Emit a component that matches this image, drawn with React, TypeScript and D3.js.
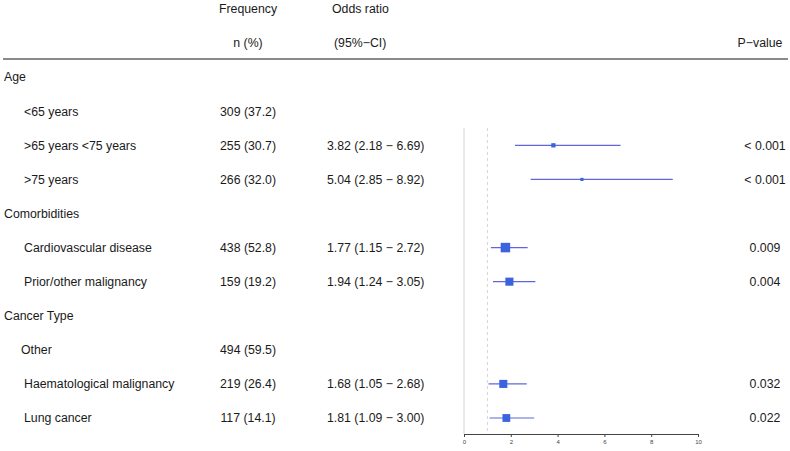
import React from "react";
import * as d3 from "d3";

const labels = ["Age", "<65 years", ">65 years <75 years", ">75 years", "Comorbidities", "Cardiovascular disease", "Prior/other malignancy", "Cancer Type", "Other", "Haematological malignancy", "Lung cancer"];
const isGroup = [true, false, false, false, true, false, false, true, false, false, false];
const freq = ["", "309 (37.2)", "255 (30.7)", "266 (32.0)", "", "438 (52.8)", "159 (19.2)", "", "494 (59.5)", "219 (26.4)", "117 (14.1)"];
const orEst: (number | null)[] = [null, null, 3.82, 5.04, null, 1.77, 1.94, null, null, 1.68, 1.81];
const orLo: (number | null)[] = [null, null, 2.18, 2.85, null, 1.15, 1.24, null, null, 1.05, 1.09];
const orHi: (number | null)[] = [null, null, 6.69, 8.92, null, 2.72, 3.05, null, null, 2.68, 3.0];
const pvals = ["", "", "< 0.001", "< 0.001", "", "0.009", "0.004", "", "", "0.032", "0.022"];
const weights = [0, 0, 0.45, 0.33, 0, 1, 0.85, 0, 0, 0.85, 0.82];
const xTicks = [0, 2, 4, 6, 8, 10];

const fmt = (v: number) => v.toFixed(2);

export default function App() {
  const W = 790, H = 451;
  const font = "'Liberation Sans', Arial, sans-serif";
  const y = d3.scaleLinear().domain([0, 12]).range([9, 418]);
  const x = d3.scaleLinear().domain([0, 10]).range([464, 698]);
  const box = d3.scaleLinear().domain([0, 1]).range([0, 9.5]);
  const axisY = 434;
  const plotTop = 128;
  const textColor = "#1a1a1a";

  const axisRef = React.useRef<SVGGElement>(null);
  React.useEffect(() => {
    if (!axisRef.current) return;
    const g = d3.select(axisRef.current);
    g.call(d3.axisBottom(x).tickValues(xTicks).tickSize(3).tickPadding(3));
    g.select(".domain").attr("stroke", "#444").attr("stroke-width", 1);
    g.selectAll(".tick line").attr("stroke", "#444");
    g.selectAll(".tick text").attr("font-size", 6).attr("fill", "#444").attr("font-family", font);
  }, []);

  const row = (i: number) => y(i + 2);

  return (
    <svg width={W} height={H} style={{ position: "absolute", left: 0, top: 0, background: "#fff" }} fontFamily={font} fontSize={12.3}>
      {/* headers */}
      <g fill={textColor}>
        <text x={248} y={y(0)} dy="0.35em" textAnchor="middle">Frequency</text>
        <text x={248} y={y(1)} dy="0.35em" textAnchor="middle">n (%)</text>
        <text x={332} y={y(0)} dy="0.35em">Odds ratio</text>
        <text x={334} y={y(1)} dy="0.35em">(95%−CI)</text>
        <text x={760} y={y(1)} dy="0.35em" textAnchor="middle">P−value</text>
      </g>
      <line x1={3} x2={788} y1={59} y2={59} stroke="#8a8a8a" strokeWidth={2} />

      {/* reference lines */}
      <line x1={x(0)} x2={x(0)} y1={plotTop} y2={axisY} stroke="#d4d4d4" strokeWidth={1} />
      <line x1={x(1)} x2={x(1)} y1={plotTop} y2={axisY} stroke="#d4d4d4" strokeWidth={1} strokeDasharray="3,3" />

      {/* rows */}
      {labels.map((lab, i) => (
        <g key={i} fill={textColor}>
          <text x={isGroup[i] ? 4 : (lab === "Other" ? 21 : 24)} y={row(i)} dy="0.35em">{lab}</text>
          {freq[i] && <text x={248} y={row(i)} dy="0.35em" textAnchor="middle">{freq[i]}</text>}
          {orEst[i] != null && (
            <text x={327} y={row(i)} dy="0.35em">{`${fmt(orEst[i] as number)} (${fmt(orLo[i] as number)} − ${fmt(orHi[i] as number)})`}</text>
          )}
          {pvals[i] && <text x={765} y={row(i)} dy="0.35em" textAnchor="middle">{pvals[i]}</text>}
        </g>
      ))}

      {/* CIs */}
      {orEst.map((v, i) => {
        if (v == null) return null;
        const s = box(weights[i]);
        return (
          <g key={"ci" + i}>
            <line x1={x(orLo[i] as number)} x2={x(orHi[i] as number)} y1={row(i)} y2={row(i)} stroke="#5f66dc" strokeWidth={1.2} />
            <rect x={x(v) - s / 2} y={row(i) - s / 2} width={s} height={s} fill="#3d62de" />
          </g>
        );
      })}

      <g ref={axisRef} transform={`translate(0,${axisY})`} />
    </svg>
  );
}
